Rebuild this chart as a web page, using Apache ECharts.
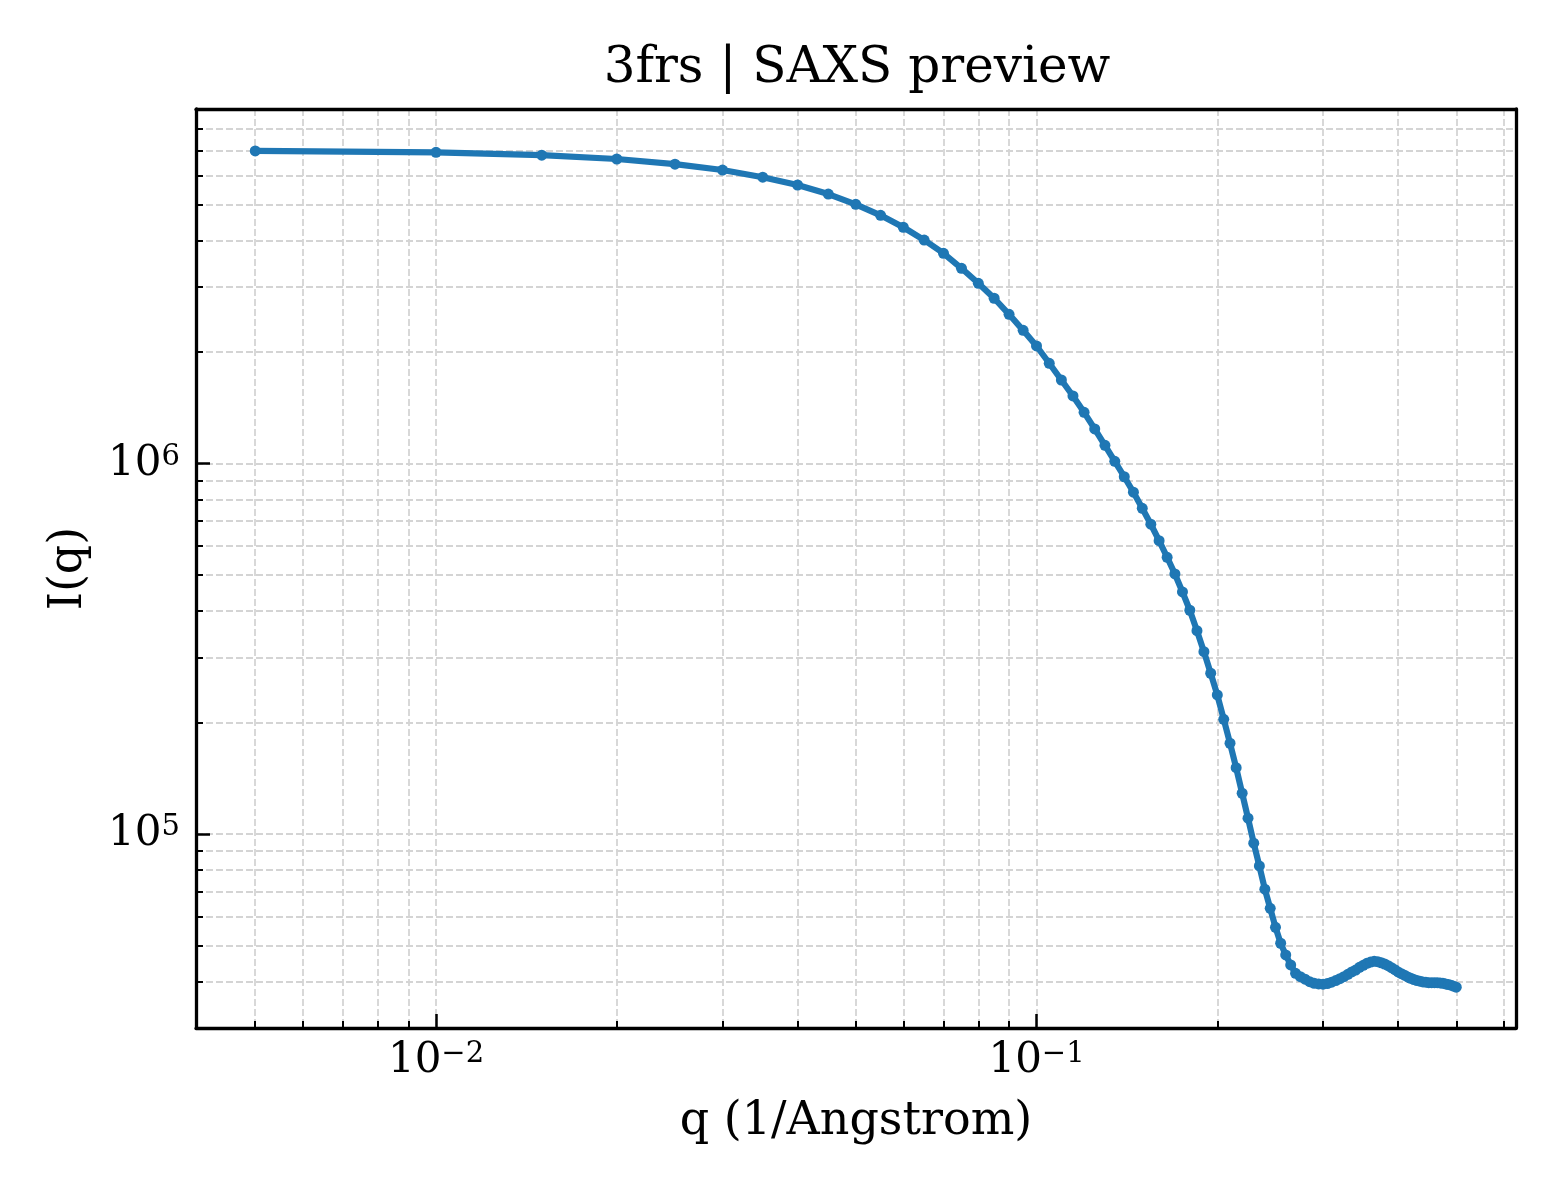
<!DOCTYPE html>
<html>
<head>
<meta charset="utf-8">
<title>3frs | SAXS preview</title>
<script src="https://cdn.jsdelivr.net/npm/echarts@6/dist/echarts.min.js"></script>
<style>
  html, body { margin: 0; padding: 0; background: #fff; }
  #chart { width: 1560px; height: 1200px; }
</style>
</head>
<body>
<div id="chart"></div>
<script>
// q (1/Angstrom)
const qValues = [
  0.005, 0.010, 0.015, 0.020, 0.025, 0.030, 0.035, 0.040, 0.045, 0.050,
  0.055, 0.060, 0.065, 0.070, 0.075, 0.080, 0.085, 0.090, 0.095, 0.100,
  0.105, 0.110, 0.115, 0.120, 0.125, 0.130, 0.135, 0.140, 0.145, 0.150,
  0.155, 0.160, 0.165, 0.170, 0.175, 0.180, 0.185, 0.190, 0.195, 0.200,
  0.205, 0.210, 0.215, 0.220, 0.225, 0.230, 0.235, 0.240, 0.245, 0.250,
  0.255, 0.260, 0.265, 0.270, 0.275, 0.280, 0.285, 0.290, 0.295, 0.300,
  0.305, 0.310, 0.315, 0.320, 0.325, 0.330, 0.335, 0.340, 0.345, 0.350,
  0.355, 0.360, 0.365, 0.370, 0.375, 0.380, 0.385, 0.390, 0.395, 0.400,
  0.405, 0.410, 0.415, 0.420, 0.425, 0.430, 0.435, 0.440, 0.445, 0.450,
  0.455, 0.460, 0.465, 0.470, 0.475, 0.480, 0.485, 0.490, 0.495, 0.500
];

// I(q)
const intensity = [
  6.98e6, 6.92e6, 6.80e6, 6.64e6, 6.43e6, 6.20e6, 5.93e6, 5.65e6, 5.34e6, 5.01e6,
  4.68e6, 4.345e6, 4.013e6, 3.696e6, 3.367e6, 3.068e6, 2.795e6, 2.530e6, 2.290e6, 2.078e6,
  1.866e6, 1.682e6, 1.523e6, 1.376e6, 1.241e6, 1.121e6, 1.015e6, 9.22e5, 8.375e5, 7.58e5,
  6.864e5, 6.199e5, 5.59e5, 5.04e5, 4.507e5, 4.022e5, 3.543e5, 3.109e5, 2.719e5, 2.376e5,
  2.043e5, 1.760e5, 1.512e5, 1.290e5, 1.105e5, 9.46e4, 8.21e4, 7.11e4, 6.31e4, 5.61e4,
  5.08e4, 4.725e4, 4.44e4, 4.215e4, 4.128e4, 4.062e4, 4.000e4, 3.962e4, 3.945e4, 3.938e4,
  3.953e4, 3.987e4, 4.027e4, 4.077e4, 4.128e4, 4.188e4, 4.250e4, 4.300e4, 4.374e4, 4.430e4,
  4.485e4, 4.520e4, 4.540e4, 4.530e4, 4.500e4, 4.465e4, 4.418e4, 4.364e4, 4.310e4, 4.250e4,
  4.205e4, 4.164e4, 4.120e4, 4.087e4, 4.052e4, 4.027e4, 4.012e4, 3.995e4, 3.987e4, 3.977e4,
  3.977e4, 3.977e4, 3.977e4, 3.969e4, 3.962e4, 3.945e4, 3.930e4, 3.914e4, 3.890e4, 3.866e4
];

const xMajorTicks = [0.01, 0.1];
const xMinorTicks = [0.004, 0.005, 0.006, 0.007, 0.008, 0.009,
  0.02, 0.03, 0.04, 0.05, 0.06, 0.07, 0.08, 0.09,
  0.2, 0.3, 0.4, 0.5, 0.6];
const yMajorTicks = [1e5, 1e6];
const yMinorTicks = [3e4, 4e4, 5e4, 6e4, 7e4, 8e4, 9e4,
  2e5, 3e5, 4e5, 5e5, 6e5, 7e5, 8e5, 9e5,
  2e6, 3e6, 4e6, 5e6, 6e6, 7e6, 8e6, 9e6];

const xRange = [0.003984, 0.6287];
const yRange = [30000, 9.06e6];

const FONT = '"DejaVu Serif", serif';
const gridLine = { show: true, lineStyle: { color: '#d4d4d4', width: 1.8, type: [7, 3] } };
const powRich = {
  b: { fontFamily: FONT, fontSize: 42, lineHeight: 42, color: '#000' },
  s: { fontFamily: FONT, fontSize: 29, lineHeight: 22, verticalAlign: 'top', color: '#000' }
};
function powLabel(v) {
  const e = Math.round(Math.log10(v));
  return '{b|10}{s|' + (e < 0 ? '\u2212' + (-e) : e) + '}';
}

function logAxis(range, pos, extra) {
  return Object.assign({
    type: 'log', logBase: 10, min: range[0], max: range[1], position: pos,
    axisLine: { show: false, onZero: false },
    axisTick: { show: false },
    axisLabel: { show: false },
    splitLine: { show: false },
    minorTick: { show: false },
    minorSplitLine: { show: false }
  }, extra);
}

const spine = { show: true, onZero: false, lineStyle: { color: '#000', width: 3.3 } };

const chart = echarts.init(document.getElementById('chart'));
chart.setOption({
  animation: false,
  backgroundColor: '#fff',
  title: {
    text: '3frs | SAXS preview',
    left: 857, top: 44, textAlign: 'center', padding: 0,
    textStyle: { fontFamily: FONT, fontSize: 50, fontWeight: 'normal', color: '#000' }
  },
  grid: { left: 196, right: 44, top: 109, bottom: 172, containLabel: false },
  xAxis: [
    // data axis + grid lines
    logAxis(xRange, 'bottom', {
      z: 0,
      axisTick: { show: false, customValues: xMajorTicks.concat(xMinorTicks) },
      splitLine: gridLine
    }),
    // bottom spine, major ticks, labels, name
    logAxis(xRange, 'bottom', {
      z: 5,
      axisLine: spine,
      axisTick: { show: true, inside: true, length: 14, customValues: xMajorTicks,
        lineStyle: { color: '#000', width: 2.5 } },
      axisLabel: { show: true, customValues: xMajorTicks, margin: 12,
        formatter: powLabel, rich: powRich },
      name: 'q (1/Angstrom)', nameLocation: 'middle', nameGap: 71,
      nameTextStyle: { fontFamily: FONT, fontSize: 46, color: '#000' }
    }),
    // minor ticks
    logAxis(xRange, 'bottom', {
      z: 5,
      axisTick: { show: true, inside: true, length: 7, customValues: xMinorTicks,
        lineStyle: { color: '#000', width: 2 } }
    }),
    // top spine
    logAxis(xRange, 'top', { z: 5, axisLine: spine })
  ],
  yAxis: [
    logAxis(yRange, 'left', {
      z: 0,
      axisTick: { show: false, customValues: yMajorTicks.concat(yMinorTicks) },
      splitLine: gridLine
    }),
    logAxis(yRange, 'left', {
      z: 5,
      axisLine: spine,
      axisTick: { show: true, inside: true, length: 14, customValues: yMajorTicks,
        lineStyle: { color: '#000', width: 2.5 } },
      axisLabel: { show: true, customValues: yMajorTicks, margin: 16,
        formatter: powLabel, rich: powRich },
      name: 'I(q)', nameLocation: 'middle', nameGap: 104, nameRotate: 90,
      nameTextStyle: { fontFamily: FONT, fontSize: 46, color: '#000' }
    }),
    logAxis(yRange, 'left', {
      z: 5,
      axisTick: { show: true, inside: true, length: 7, customValues: yMinorTicks,
        lineStyle: { color: '#000', width: 2 } }
    }),
    logAxis(yRange, 'right', { z: 5, axisLine: spine })
  ],
  series: [{
    type: 'line',
    xAxisIndex: 0,
    yAxisIndex: 0,
    data: qValues.map((q, i) => [q, intensity[i]]),
    symbol: 'circle',
    symbolSize: 11,
    showSymbol: true,
    lineStyle: { color: '#1f77b4', width: 6.2 },
    itemStyle: { color: '#1f77b4' },
    z: 2
  }]
});
</script>
</body>
</html>
